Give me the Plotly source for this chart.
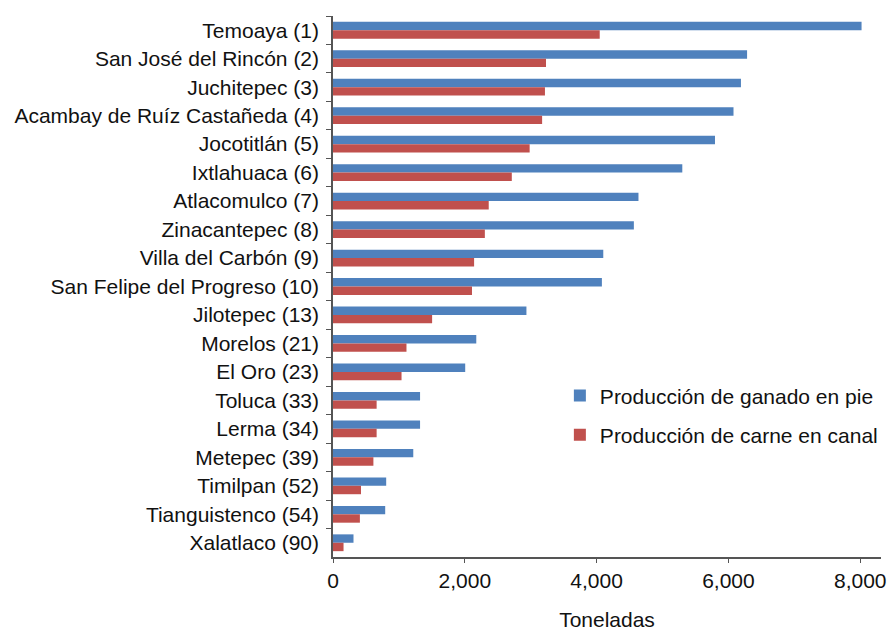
import plotly.graph_objects as go

municipios = [
    "Temoaya (1)", "San José del Rincón (2)", "Juchitepec (3)",
    "Acambay de Ruíz Castañeda (4)", "Jocotitlán (5)", "Ixtlahuaca (6)",
    "Atlacomulco (7)", "Zinacantepec (8)", "Villa del Carbón (9)",
    "San Felipe del Progreso (10)", "Jilotepec (13)", "Morelos (21)",
    "El Oro (23)", "Toluca (33)", "Lerma (34)", "Metepec (39)",
    "Timilpan (52)", "Tianguistenco (54)", "Xalatlaco (90)",
]
ganado_en_pie = [8020, 6283, 6190, 6077, 5796, 5300, 4635, 4565, 4101, 4080,
                 2935, 2174, 2006, 1321, 1321, 1218, 807, 792, 311]
carne_en_canal = [4047, 3232, 3216, 3173, 2984, 2713, 2363, 2304, 2141, 2109,
                  1504, 1115, 1040, 662, 662, 613, 425, 408, 160]

FONT = "Liberation Sans, Arial, sans-serif"
FS = 21

fig = go.Figure()
fig.add_trace(go.Bar(
    y=municipios, x=ganado_en_pie, orientation="h",
    name="Producción de ganado en pie",
    marker=dict(color="#4F81BD", line=dict(width=0)),
    legendgroup="a",
))
fig.add_trace(go.Bar(
    y=municipios, x=carne_en_canal, orientation="h",
    name="Producción de carne en canal",
    marker=dict(color="#C0504D", line=dict(width=0)),
    legendgroup="b",
))

fig.update_layout(
    width=889, height=631,
    margin=dict(l=333, r=6, t=16, b=74),
    paper_bgcolor="white", plot_bgcolor="white",
    font=dict(family=FONT, size=FS, color="#111111"),
    barmode="group", bargap=0.41, bargroupgap=0,
    showlegend=True,
    legend=dict(
        x=0.414, y=0.262, xanchor="left", yanchor="middle",
        bgcolor="rgba(0,0,0,0)", font=dict(size=FS),
        traceorder="grouped", tracegroupgap=9,
        itemwidth=30,
    ),
    xaxis=dict(
        automargin=False,
        range=[0, 8315],
        tickvals=[0, 2000, 4000, 6000, 8000],
        ticktext=["0", "2,000", "4,000", "6,000", "8,000"],
        showgrid=False, zeroline=False,
        showline=True, linecolor="#555", linewidth=1.5,
        ticks="outside", ticklen=4, tickcolor="#555",
        title=dict(text="Toneladas", font=dict(size=FS), standoff=26),
    ),
    yaxis=dict(
        automargin=False,
        autorange="reversed",
        showgrid=False, zeroline=False,
        showline=True, linecolor="#555", linewidth=1.5,
        ticks="outside", ticklen=5, tickcolor="#555",
        tickson="boundaries",
        ticklabelstandoff=8,
    ),
)

fig.write_html(
    "out.html",
    config={"displayModeBar": False},
    post_script="document.body.style.margin='0';document.body.style.overflow='hidden';",
)
